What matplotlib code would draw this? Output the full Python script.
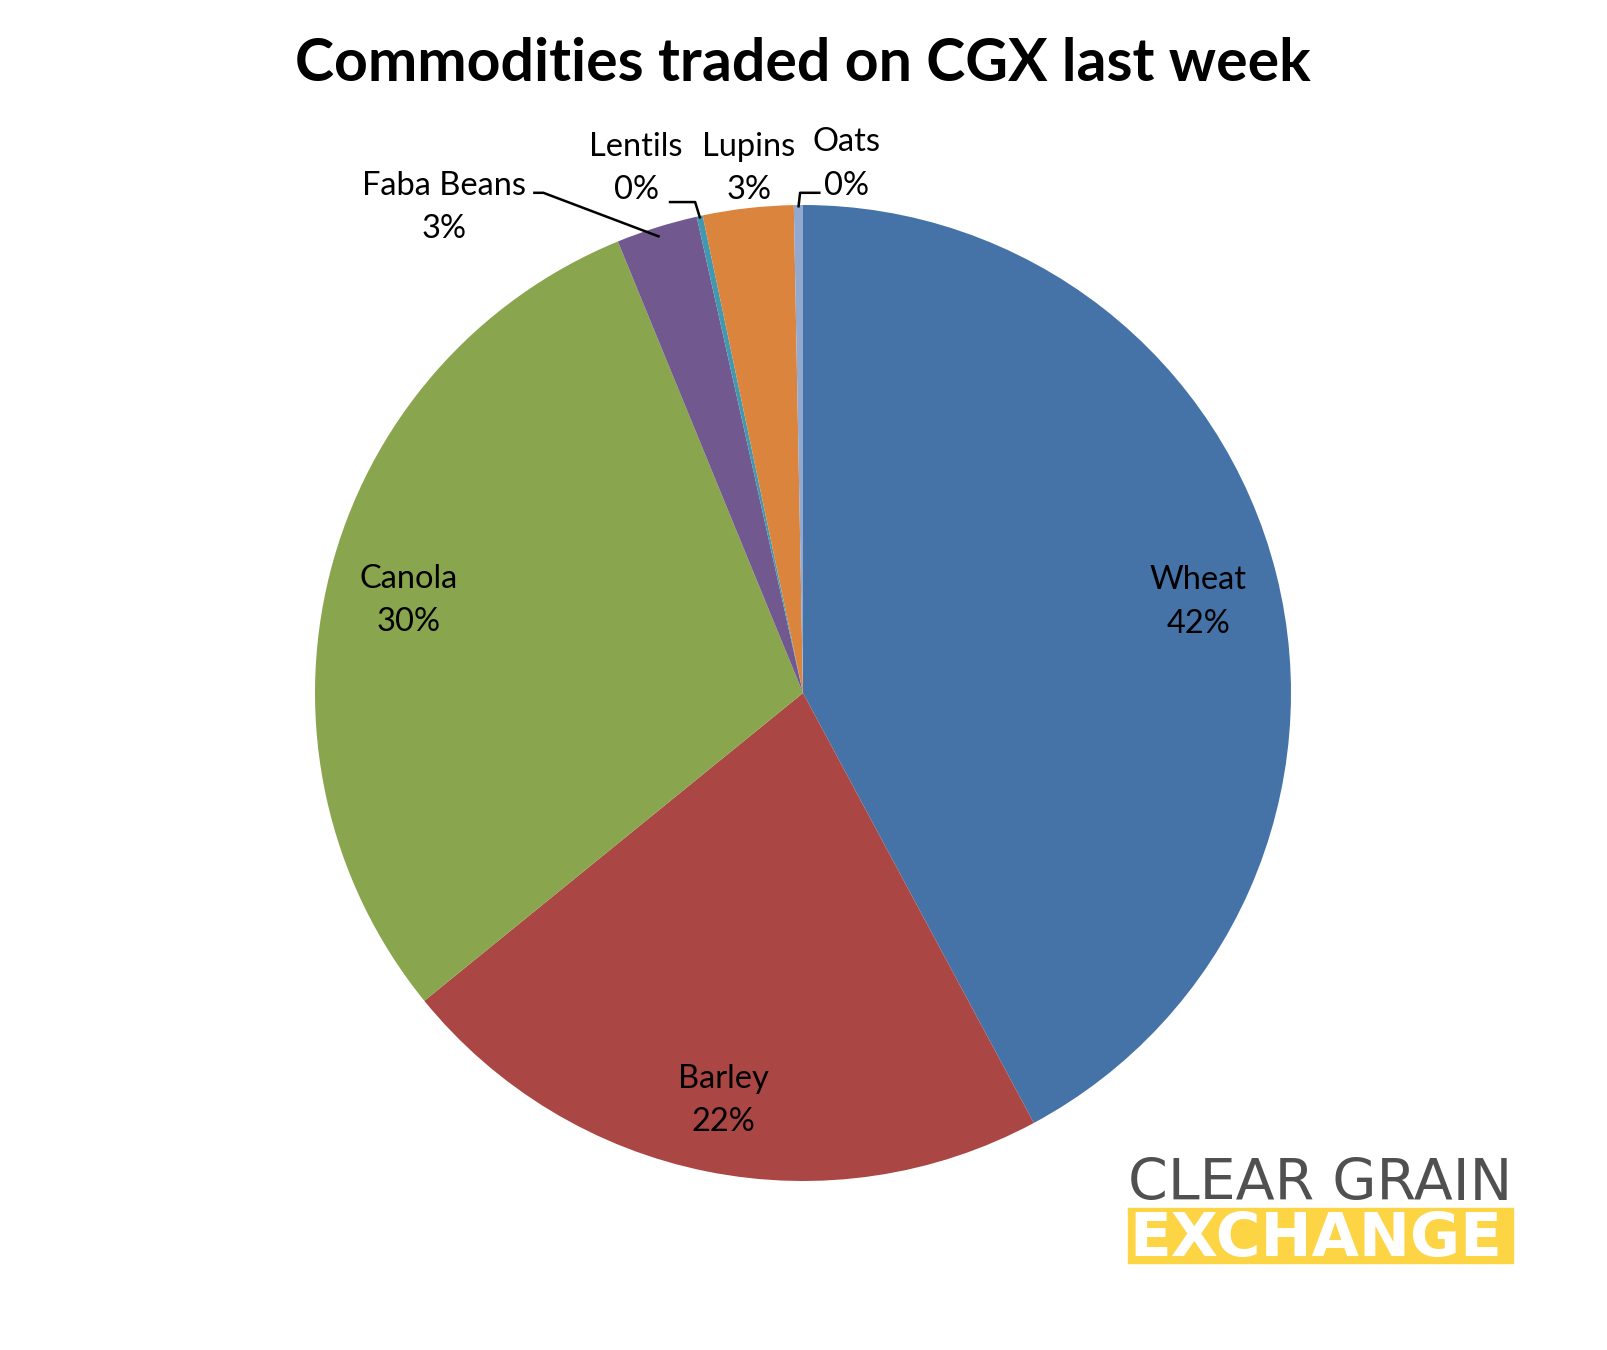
import numpy as np
import matplotlib.pyplot as plt
from matplotlib.patches import Rectangle

# data (share of volume traded, %)
commodities = ['Wheat', 'Barley', 'Canola', 'Faba Beans', 'Lentils', 'Lupins', 'Oats']
shares = [42.2, 22.0, 29.7, 2.7, 0.2, 3.0, 0.3]
pct_labels = ['42%', '22%', '30%', '3%', '0%', '3%', '0%']
colors = ['#4572A7', '#AA4643', '#89A54E', '#71588F', '#4198AF', '#DB843D', '#93A9CF']

plt.rcParams['font.family'] = ['Lato', 'DejaVu Sans']

fig = plt.figure(figsize=(16.08, 13.5), dpi=100)
ax = fig.add_axes([0, 0, 1, 1])

# pie centre and radius in pixels of the 1608x1350 canvas
cx, cy, R = 803.0, 693.0, 488.0
W, H = 1608.0, 1350.0

wedges, _ = ax.pie(shares, colors=colors, startangle=90, counterclock=False,
                   radius=1, center=(0, 0), frame=False,
                   wedgeprops=dict(linewidth=0))
ax.set_xlim(-cx / R, (W - cx) / R)
ax.set_ylim(-(H - cy) / R, cy / R)
ax.set_aspect('auto')
ax.axis('off')

lab_font = 23.5
lsp = 1.55
dy = -0.017  # small downward nudge for all data labels

# big slices: labels inside
for w, name, pct in zip(wedges[:3], commodities[:3], pct_labels[:3]):
    mid = np.deg2rad((w.theta1 + w.theta2) / 2)
    ax.text(0.835 * np.cos(mid), 0.835 * np.sin(mid) + dy, name + '\n' + pct,
            ha='center', va='center', fontsize=lab_font, linespacing=lsp)

# small slices: labels outside with leader lines
outside = {
    3: dict(text=(-0.735, 1.012), elbow=[(-0.553, 1.025), (-0.532, 1.025)]),
    4: dict(text=(-0.342, 1.092), elbow=[(-0.275, 1.006), (-0.221, 1.006)]),
    5: dict(text=(-0.111, 1.092), elbow=None),
    6: dict(text=(0.090, 1.101), elbow=[(0.036, 1.025), (-0.006, 1.025)]),
}
for i, o in outside.items():
    w = wedges[i]
    ax.text(o['text'][0], o['text'][1] + dy, commodities[i] + '\n' + pct_labels[i],
            ha='center', va='center', fontsize=lab_font, linespacing=lsp)
    if o['elbow'] is not None:
        mid = np.deg2rad((w.theta1 + w.theta2) / 2)
        r_end = 0.98 if i == 3 else 0.995
        end = (r_end * np.cos(mid), r_end * np.sin(mid))
        pts = o['elbow'] + [end]
        ax.plot([p[0] for p in pts], [p[1] for p in pts], color='black', lw=1.8,
                solid_capstyle='butt')

fig.text(803 / W, 1 - 64 / H, 'Commodities traded on CGX last week',
         ha='center', va='center', fontsize=42.5, fontweight='bold')

# logo
fig.text(1128 / W, 1 - 1200 / H, 'CLEAR GRAIN', ha='left', va='baseline',
         fontsize=41, color='#505050', family=['DejaVu Sans'])
bar = Rectangle((1128 / W, 1 - 1263 / H), (1513 - 1128) / W, 55 / H,
                transform=fig.transFigure, color='#FCD444')
fig.patches.append(bar)
t = fig.text(1316 / W, 1 - 1256 / H, 'EXCHANGE', ha='center', va='baseline',
             fontsize=44, fontweight='bold', color='white',
             family=['DejaVu Sans'])
t.set_clip_path(bar)

fig.savefig('out.png', dpi=100)
